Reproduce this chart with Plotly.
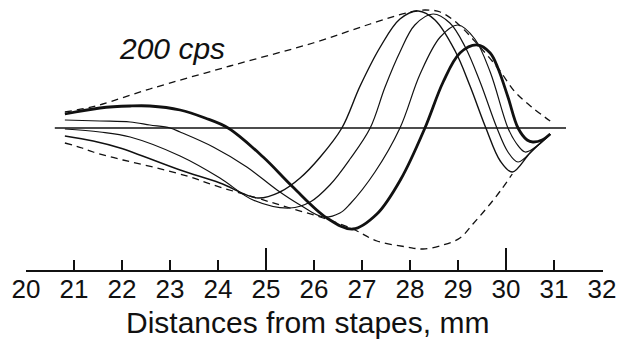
import plotly.graph_objects as go

# ---- data (x in mm from stapes, y = displacement, arbitrary units) ----
a_x = [20.81, 21.54, 22.17, 22.58, 23.21, 23.73, 24.21, 24.94, 25.56, 26.27, 26.81, 27.31, 27.81, 28.31, 28.69, 29.04, 29.40, 29.67, 29.83, 30.04, 30.25, 30.44, 30.56, 30.75, 30.92]
a_y = [14, 20, 22, 22, 18, 10, 0, -29, -59, -90, -101, -86, -51, 0, 46, 75, 83, 75, 60, 31, 0, -12, -14, -12, -6]

b_x = [20.81, 21.54, 22.17, 22.58, 23.00, 23.21, 23.90, 24.60, 25.23, 25.71, 26.19, 26.54, 26.75, 27.27, 27.79, 28.21, 28.63, 29.00, 29.35, 29.67, 30.04, 30.21, 30.40, 30.67, 30.92]
b_y = [8, 7, 6, 3, 0, -4, -19, -39, -62, -77, -89, -85, -76, -44, 0, 54, 91, 103, 89, 56, 0, -15, -24, -17, -6]

c_x = [20.81, 21.54, 22.17, 23.21, 24.04, 24.73, 25.50, 25.92, 26.33, 26.75, 27.17, 27.48, 27.79, 28.10, 28.48, 28.83, 29.15, 29.46, 29.81, 30.04, 30.25, 30.60, 30.92]
c_y = [-1, -4, -9, -28, -50, -72, -80, -74, -57, -31, 0, 41, 76, 103, 114, 105, 81, 46, 0, -24, -34, -20, -6]

d_x = [20.81, 21.40, 21.96, 23.21, 24.04, 24.83, 25.29, 25.71, 26.13, 26.58, 26.96, 27.38, 27.79, 28.17, 28.52, 28.94, 29.25, 29.58, 29.88, 30.13, 30.50, 30.92]
d_y = [-8, -13, -20, -42, -55, -70, -64, -50, -29, 0, 42, 81, 109, 117, 108, 77, 42, 0, -33, -44, -25, -6]

env_up_x = [20.81, 21.27, 21.60, 22.58, 24.25, 25.98, 27.17, 28.00, 28.31, 28.63, 29.00, 29.40, 29.83, 30.19, 30.56, 30.92]
env_up_y = [16, 20, 24, 39, 62, 85, 104, 116, 118, 116, 104, 84, 60, 36, 20, 7]

env_lo_x = [20.81, 21.17, 21.40, 22.02, 22.73, 23.42, 23.90, 24.81, 25.50, 26.19, 26.81, 27.31, 27.94, 28.27, 28.69, 29.04, 29.31, 29.60, 29.88, 30.13]
env_lo_y = [-15, -20, -24, -32, -40, -49, -57, -70, -80, -90, -101, -113, -119, -121, -117, -110, -96, -80, -63, -46]

zero_x = [20.60, 31.25]
zero_y = [0, 0]

x_ticks = list(range(20, 33))
x_major = [20, 25, 30]
x_label = "Distances from stapes, mm"
x_label_center = 25.86
freq_label = "200 cps"
label_pos = (23.04, 80)

INK = "#111111"
X_RANGE = [20, 32.02]

fig = go.Figure()

def add_line(x, y, width, dash="solid", xaxis="x"):
    fig.add_trace(go.Scatter(
        x=x, y=y, mode="lines", xaxis=xaxis,
        line=dict(color=INK, width=width, dash=dash, shape="spline", smoothing=1.0),
        hoverinfo="skip", showlegend=False,
    ))

add_line(env_up_x, env_up_y, 1.3, dash="7px,5px")
add_line(env_lo_x, env_lo_y, 1.3, dash="7px,5px")
add_line(d_x, d_y, 1.4)
add_line(c_x, c_y, 1.2)
add_line(b_x, b_y, 1.2)
add_line(a_x, a_y, 2.8)
fig.add_trace(go.Scatter(x=zero_x, y=zero_y, mode="lines", xaxis="x2",
                         line=dict(color=INK, width=1.6), hoverinfo="skip", showlegend=False))

fig.add_annotation(x=label_pos[0], y=label_pos[1], text=freq_label, showarrow=False,
                   font=dict(family="Liberation Sans, Arial, sans-serif", size=30, color=INK, style="italic"),
                   xanchor="center", yanchor="middle")

fig.add_annotation(x=x_label_center, y=-0.196, xref="x", yref="paper", text=x_label,
                   showarrow=False, xanchor="center", yanchor="middle",
                   font=dict(family="Liberation Sans, Arial, sans-serif", size=30, color=INK))

fig.update_layout(
    width=618, height=342,
    margin=dict(l=26, r=15, t=0, b=72),
    paper_bgcolor="white", plot_bgcolor="white",
    xaxis=dict(range=X_RANGE, tickvals=x_ticks, ticks="inside", ticklen=10, tickwidth=1.5,
               tickcolor=INK, showline=True, linecolor=INK, linewidth=1.6, showgrid=False,
               zeroline=False, ticklabelstandoff=-5, automargin=False,
               tickfont=dict(family="Liberation Sans, Arial, sans-serif", size=26, color=INK)),
    xaxis2=dict(range=X_RANGE, overlaying="x", anchor="y", side="bottom", tickvals=x_major,
                ticks="inside", ticklen=22, tickwidth=1.5, tickcolor=INK, showticklabels=False,
                showline=False, showgrid=False, zeroline=False),
    yaxis=dict(range=[-142, 128], visible=False, showgrid=False, zeroline=False),
)

fig.write_html("out.html")
